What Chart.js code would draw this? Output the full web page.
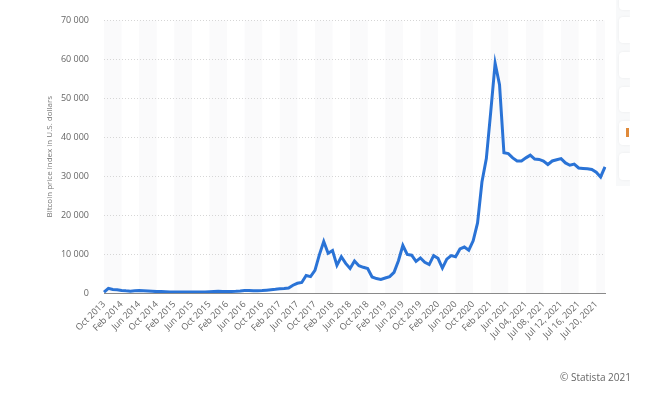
<!DOCTYPE html>
<html>
<head>
<meta charset="utf-8">
<script src="https://cdn.jsdelivr.net/npm/chart.js@4.4.0/dist/chart.umd.min.js"></script>
<style>
  html, body { margin: 0; padding: 0; background: #fff; }
  body { width: 659px; height: 396px; position: relative; overflow: hidden; font-family: "Open Sans", sans-serif; }
  .wrap { position: absolute; left: 0; top: 0; width: 659px; height: 360px; }
  .credit { position: absolute; left: 560px; top: 370px; font-size: 10px; color: #666; }
  .side { position: absolute; left: 616px; top: 0; width: 14px; height: 186px; background: #f8f9fa; }
  .btn { position: absolute; left: 619px; width: 12px; background: #fff; border-radius: 4px 0 0 4px; box-shadow: 0 0 3px rgba(0,0,0,0.06); }
  .cover { position: absolute; left: 630px; top: 0; width: 29px; height: 396px; background: #fff; }
  .icon { position: absolute; left: 626px; top: 128px; width: 3px; height: 9px; background: #e08a3a; }
</style>
</head>
<body>
<div class="wrap"><canvas id="btcChart"></canvas></div>
<div class="side"></div>
<div class="btn" style="top:-4px;height:14px"></div>
<div class="btn" style="top:17px;height:26px"></div>
<div class="btn" style="top:52px;height:26px"></div>
<div class="btn" style="top:87px;height:25px"></div>
<div class="btn" style="top:121px;height:24px"></div>
<div class="btn" style="top:153px;height:27px"></div>
<div class="cover"></div>
<div class="icon"></div>
<div class="credit">© Statista 2021</div>
<script>
const categories = [
  "Oct 2013", "Nov 2013", "Dec 2013",
  "Jan 2014", "Feb 2014", "Mar 2014", "Apr 2014", "May 2014", "Jun 2014", "Jul 2014", "Aug 2014", "Sep 2014", "Oct 2014", "Nov 2014", "Dec 2014",
  "Jan 2015", "Feb 2015", "Mar 2015", "Apr 2015", "May 2015", "Jun 2015", "Jul 2015", "Aug 2015", "Sep 2015", "Oct 2015", "Nov 2015", "Dec 2015",
  "Jan 2016", "Feb 2016", "Mar 2016", "Apr 2016", "May 2016", "Jun 2016", "Jul 2016", "Aug 2016", "Sep 2016", "Oct 2016", "Nov 2016", "Dec 2016",
  "Jan 2017", "Feb 2017", "Mar 2017", "Apr 2017", "May 2017", "Jun 2017", "Jul 2017", "Aug 2017", "Sep 2017", "Oct 2017", "Nov 2017", "Dec 2017",
  "Jan 2018", "Feb 2018", "Mar 2018", "Apr 2018", "May 2018", "Jun 2018", "Jul 2018", "Aug 2018", "Sep 2018", "Oct 2018", "Nov 2018", "Dec 2018",
  "Jan 2019", "Feb 2019", "Mar 2019", "Apr 2019", "May 2019", "Jun 2019", "Jul 2019", "Aug 2019", "Sep 2019", "Oct 2019", "Nov 2019", "Dec 2019",
  "Jan 2020", "Feb 2020", "Mar 2020", "Apr 2020", "May 2020", "Jun 2020", "Jul 2020", "Aug 2020", "Sep 2020", "Oct 2020", "Nov 2020", "Dec 2020",
  "Jan 2021", "Feb 2021", "Mar 2021", "Apr 2021", "May 2021", "Jun 2021",
  "Jul 01, 2021", "Jul 02, 2021", "Jul 03, 2021", "Jul 04, 2021", "Jul 05, 2021", "Jul 06, 2021", "Jul 07, 2021", "Jul 08, 2021",
  "Jul 09, 2021", "Jul 10, 2021", "Jul 11, 2021", "Jul 12, 2021", "Jul 13, 2021", "Jul 14, 2021", "Jul 15, 2021", "Jul 16, 2021",
  "Jul 17, 2021", "Jul 18, 2021", "Jul 19, 2021", "Jul 20, 2021", "Jul 21, 2021", "Jul 22, 2021"
];

const priceIndex = [
  200, 1200, 900,
  850, 650, 550, 480, 580, 640, 600, 520, 430, 360, 370, 340,
  250, 240, 260, 230, 235, 245, 280, 240, 235, 290, 360, 430,
  400, 410, 415, 440, 490, 650, 660, 580, 605, 640, 730, 830,
  950, 1100, 1150, 1300, 2000, 2500, 2700, 4500, 4200, 5800, 9800, 13200,
  10200, 10900, 7100, 9300, 7600, 6300, 8200, 7000, 6600, 6300, 4100, 3700,
  3500, 3850, 4200, 5300, 8300, 12200, 9900, 9700, 8100, 9000, 7900, 7300,
  9600, 8900, 6400, 8700, 9600, 9300, 11300, 11800, 11000, 13400, 18000, 28500,
  34500, 46500, 59000, 53500, 36000, 35800,
  34700, 33900, 33900, 34700, 35400, 34400, 34300, 33900,
  33000, 33900, 34200, 34500, 33400, 32800, 33100, 32100,
  32000, 31900, 31700, 31000, 29800, 32400
];

const yTicks = [0, 10000, 20000, 30000, 40000, 50000, 60000, 70000];
const labelEvery = 4;

function spaced(n) {
  return String(n).replace(/\B(?=(\d{3})+(?!\d))/g, " ");
}

// alternating background bands, one per labelled interval
const bands = {
  id: "bands",
  beforeDraw(chart) {
    const { ctx, chartArea, scales } = chart;
    const x = scales.x;
    ctx.save();
    ctx.beginPath();
    ctx.rect(chartArea.left, chartArea.top, chartArea.right - chartArea.left, chartArea.bottom - chartArea.top);
    ctx.clip();
    ctx.fillStyle = "#fafafb";
    for (let i = 0; i < categories.length; i += labelEvery * 2) {
      const a = x.getPixelForValue(i);
      const b = x.getPixelForValue(i + labelEvery);
      ctx.fillRect(a, chartArea.top - 2, b - a, chartArea.bottom - chartArea.top + 2);
    }
    ctx.restore();
  }
};

Chart.defaults.font.family = "'Open Sans', sans-serif";
Chart.defaults.color = "#666";

new Chart(document.getElementById("btcChart"), {
  type: "line",
  data: {
    labels: categories,
    datasets: [
      {
        label: "Bitcoin price index",
        data: priceIndex,
        borderColor: "#2a73d6",
        borderWidth: 3,
        pointRadius: 0,
        tension: 0,
        fill: false
      }
    ]
  },
  options: {
    responsive: true,
    maintainAspectRatio: false,
    animation: false,
    layout: { padding: { left: 41, right: 54, top: 11, bottom: 0 } },
    plugins: {
      legend: { display: false },
      tooltip: { enabled: false }
    },
    scales: {
      x: {
        type: "category",
        offset: false,
        grid: { display: false, drawTicks: false },
        border: { display: true, color: "#8a8a8a", width: 1 },
        ticks: {
          autoSkip: false,
          minRotation: 45,
          maxRotation: 45,
          padding: 6,
          font: { size: 9 },
          color: "#666",
          callback: (v, i) => (i % labelEvery === 0 ? categories[i] : "")
        },
        afterFit: (scale) => { scale.height = 360 - 293; }
      },
      y: {
        min: 0,
        max: 70000,
        afterBuildTicks: (scale) => { scale.ticks = yTicks.map((v) => ({ value: v })); },
        grid: { color: "#d6d6d6", drawTicks: false, lineWidth: 1 },
        border: { display: false, dash: [1, 2] },
        ticks: {
          padding: 15,
          font: { size: 9 },
          color: "#666",
          callback: (v) => spaced(v)
        },
        title: {
          display: true,
          text: "Bitcoin price index in U.S. dollars",
          font: { size: 8 },
          color: "#777",
          padding: { top: 4, bottom: 4 }
        },
        afterFit: (scale) => { scale.width = 63; }
      }
    }
  },
  plugins: [bands]
});
</script>
</body>
</html>
